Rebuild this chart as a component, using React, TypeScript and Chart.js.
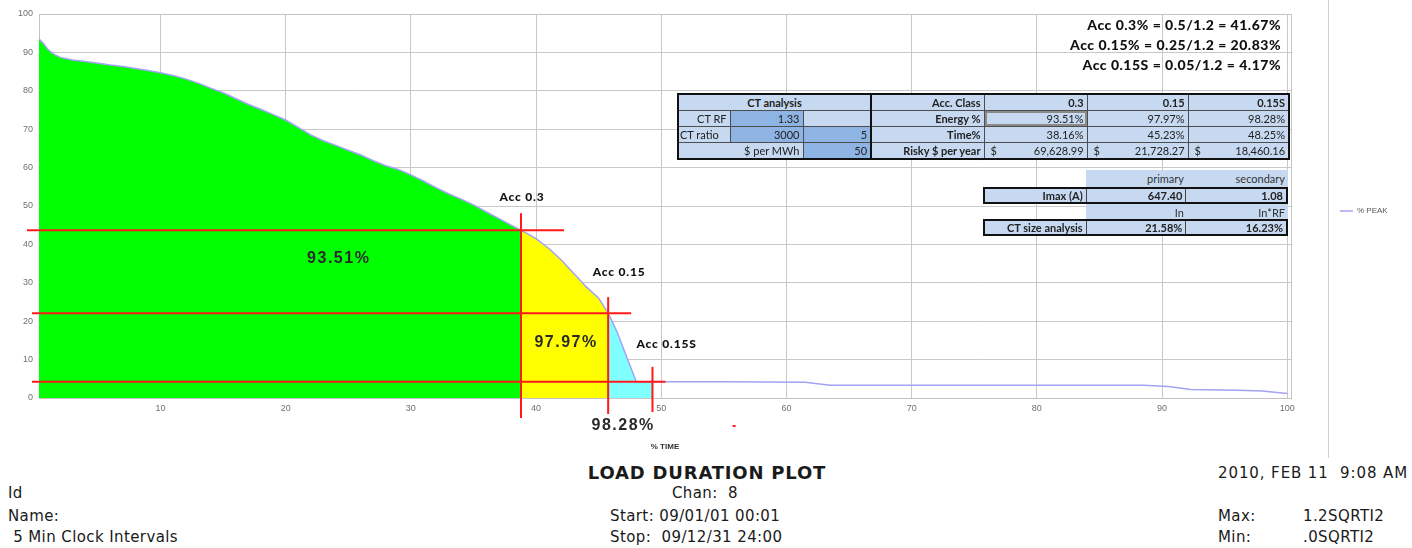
import React, { useEffect, useRef } from "react";
import { Chart, registerables } from "chart.js";

Chart.register(...registerables);

// ---------------- data ----------------
const timePct = [0.3, 0.6, 1, 1.5, 2, 3, 4, 5, 6, 7, 8, 9, 10, 11, 12, 13, 14, 15, 16, 17, 18, 19, 20, 21, 22, 23, 24, 25, 26, 27, 28, 29, 30, 31, 32, 33, 34, 35, 36, 37, 38, 38.8, 40, 41, 42, 43, 44, 45, 45.76, 46.5, 47.2, 48, 49.3, 55, 61.5, 63.5, 70, 80, 88.5, 90.5, 92.3, 96, 98, 100];
const peakPct = [93.5, 92.5, 90.8, 89.5, 88.7, 88.0, 87.6, 87.2, 86.7, 86.3, 85.8, 85.3, 84.7, 84.0, 83.1, 82.0, 80.7, 79.5, 78.0, 76.5, 75.2, 73.8, 72.4, 70.5, 68.5, 67.0, 65.8, 64.5, 63.3, 61.8, 60.5, 59.5, 58.1, 56.5, 54.8, 53.2, 51.8, 50.3, 48.5, 46.8, 45.0, 43.7, 41.5, 39.0, 36.0, 32.5, 29.0, 26.0, 22.1, 17.0, 11.0, 4.3, 4.2, 4.2, 4.1, 3.3, 3.3, 3.3, 3.3, 3.0, 2.2, 2.0, 1.8, 1.2];

const markerTime = [38.8, 45.76, 49.3];
const markerPeak = [43.7, 22.1, 4.2];
const accLabels = ["Acc 0.3", "Acc 0.15", "Acc 0.15S"];

const xTicks = [10, 20, 30, 40, 50, 60, 70, 80, 90, 100];
const yTicks = [0, 10, 20, 30, 40, 50, 60, 70, 80, 90, 100];

const accClasses = ["0.3", "0.15", "0.15S"];
const energyPct = [93.51, 97.97, 98.28];
const timeAtLimit = [38.16, 45.23, 48.25];
const riskyPerYear = [69628.99, 21728.27, 18460.16];
const ctRF = 1.33;
const ctRatio = [3000, 5];
const pricePerMWh = 50;
const imaxA = [647.4, 1.08];
const ctSizePct = [21.58, 16.23];
const sizeHeaders = ["primary", "secondary"];
const sizeHeaders2 = ["In", "In*RF"];

const accFormulas = [
  "Acc 0.3% = 0.5/1.2 = 41.67%",
  "Acc 0.15% = 0.25/1.2 = 20.83%",
  "Acc 0.15S = 0.05/1.2 = 4.17%",
];

// ---------------- styles ----------------
const zoneColors = ["#00ff00", "#ffff00", "#80ffff"];
const LB = "#c6d9f1";
const DB = "#8db4e2";
const labelDx = [1, 11, 14];
const labelDy = [-33, -41, -38];
const hLeft = [12, 7, 7];
const hRight = [43, 23, 13];
const vUp = [17, 16, 15];
const vDown = [20, 16, 14];
// energy label positions (in axis units)
const energyLabelX = [24.24, 42.4, 46.96];
const energyLabelY = [36.2, 14.3, -7.3];

const fmt2 = (v: number) => v.toLocaleString("en-US", { minimumFractionDigits: 2, maximumFractionDigits: 2 });

const curve = timePct.map((t, i) => ({ x: t, y: peakPct[i] }));
const zoneStarts = [timePct[0], ...markerTime];
const zones = markerTime.map((end, i) => curve.filter((p) => p.x >= zoneStarts[i] && p.x <= end));

const annotPlugin = {
  id: "annot",
  beforeDatasetsDraw(chart: any) {
    const { ctx, chartArea } = chart;
    ctx.save();
    ctx.strokeStyle = "#c4c4c4";
    ctx.lineWidth = 1;
    ctx.strokeRect(chartArea.left + 0.5, chartArea.top + 0.5, chartArea.right - chartArea.left, chartArea.bottom - chartArea.top);
    ctx.restore();
  },
  afterDatasetsDraw(chart: any) {
    const { ctx, chartArea, scales } = chart;
    const x = scales.x;
    const y = scales.y;
    ctx.save();
    ctx.strokeStyle = "#ff1a1a";
    ctx.lineWidth = 2;
    markerTime.forEach((t, i) => {
      const px = x.getPixelForValue(t);
      const py = y.getPixelForValue(markerPeak[i]);
      ctx.beginPath();
      ctx.moveTo(chartArea.left - hLeft[i], py);
      ctx.lineTo(px + hRight[i], py);
      ctx.stroke();
      ctx.beginPath();
      ctx.moveTo(px, py - vUp[i]);
      ctx.lineTo(px, chartArea.bottom + vDown[i]);
      ctx.stroke();
    });
    // small red dash
    ctx.beginPath();
    ctx.moveTo(x.getPixelForValue(55.7), y.getPixelForValue(-7.3));
    ctx.lineTo(x.getPixelForValue(55.7) + 3, y.getPixelForValue(-7.3));
    ctx.stroke();

    ctx.fillStyle = "#111";
    ctx.textAlign = "center";
    ctx.textBaseline = "middle";
    (ctx as any).letterSpacing = "0.8px";
    ctx.font = "900 12px Lato";
    markerTime.forEach((t, i) => {
      const px = x.getPixelForValue(t);
      const py = y.getPixelForValue(markerPeak[i]);
      ctx.fillText(accLabels[i], px + labelDx[i], py + labelDy[i]);
    });
    (ctx as any).letterSpacing = "1.5px";
    ctx.font = "bold 16px 'Liberation Sans'";
    ctx.fillStyle = "#2a2a2a";
    energyPct.forEach((e, i) => {
      ctx.fillText(e.toFixed(2) + "%", x.getPixelForValue(energyLabelX[i]), y.getPixelForValue(energyLabelY[i]));
    });
    (ctx as any).letterSpacing = "0px";
    ctx.restore();
  },
  afterDraw(chart: any) {
    const { ctx, chartArea } = chart;
    const ds = chart.data.datasets[0];
    ctx.save();
    // outer frame line
    ctx.strokeStyle = "#cfcfcf";
    ctx.lineWidth = 1;
    ctx.beginPath();
    ctx.moveTo(chartArea.right + 37.5, 0);
    ctx.lineTo(chartArea.right + 37.5, 458);
    ctx.stroke();
    // legend
    const ly = (chartArea.top + chartArea.bottom) / 2 + 5;
    ctx.strokeStyle = ds.borderColor;
    ctx.lineWidth = 1.5;
    ctx.beginPath();
    ctx.moveTo(chartArea.right + 49, ly);
    ctx.lineTo(chartArea.right + 62, ly);
    ctx.stroke();
    ctx.fillStyle = "#555";
    ctx.font = "8px 'Liberation Sans'";
    ctx.textAlign = "left";
    ctx.textBaseline = "middle";
    ctx.fillText(ds.label, chartArea.right + 66, ly);
    ctx.restore();
  },
};

const tdBase: React.CSSProperties = {
  border: "1px solid #4d4d4d",
  padding: "0 3px",
  height: 15,
  lineHeight: "14px",
  textAlign: "right",
  background: LB,
  whiteSpace: "nowrap",
  overflow: "hidden",
};

function Td(props: { children?: React.ReactNode; bg?: string; bold?: boolean; align?: any; colSpan?: number; extra?: React.CSSProperties }) {
  return (
    <td
      colSpan={props.colSpan}
      style={{
        ...tdBase,
        background: props.bg || LB,
        fontWeight: props.bold ? 700 : 400,
        textAlign: props.align || "right",
        ...(props.extra || {}),
      }}
    >
      {props.children}
    </td>
  );
}

function Money({ v }: { v: number }) {
  return (
    <span style={{ display: "flex", justifyContent: "space-between", paddingLeft: 3 }}>
      <span>$</span>
      <span>{fmt2(v)}</span>
    </span>
  );
}

const sepRight: React.CSSProperties = { borderRight: "2px solid #111" };

export default function App() {
  const ref = useRef<HTMLCanvasElement>(null);

  useEffect(() => {
    if (!ref.current) return;
    const chart = new Chart(ref.current, {
      type: "line",
      data: {
        datasets: [
          {
            label: "% PEAK",
            data: curve,
            borderColor: "#a3a3f5",
            borderWidth: 1.5,
            pointRadius: 0,
            fill: false,
            tension: 0,
          },
          ...zones.map((d, i) => ({
            label: "zone" + i,
            data: d,
            borderColor: "rgba(0,0,0,0)",
            backgroundColor: zoneColors[i],
            borderWidth: 1,
            pointRadius: 0,
            fill: "origin",
            tension: 0,
          })),
        ],
      } as any,
      options: {
        animation: false,
        responsive: true,
        maintainAspectRatio: false,
        events: [],
        layout: { padding: { left: 0, top: 14, right: 121, bottom: 0 } },
        plugins: { legend: { display: false }, tooltip: { enabled: false } },
        scales: {
          x: {
            type: "linear",
            min: 0.3,
            max: 100.3,
            afterBuildTicks: (s: any) => {
              s.ticks = xTicks.map((v) => ({ value: v }));
            },
            afterFit: (s: any) => {
              s.height = 62;
            },
            ticks: { font: { size: 9, family: "'Liberation Sans'" }, color: "#707070", padding: 5, maxRotation: 0 },
            grid: { color: "#c8c8c8", drawTicks: false },
            border: { color: "#c4c4c4" },
            title: {
              display: true,
              text: "% TIME",
              font: { size: 8, weight: "bold", family: "'Liberation Sans'" },
              color: "#333",
              padding: { top: 0, bottom: 8 },
            },
          },
          y: {
            type: "linear",
            min: 0,
            max: 100,
            afterBuildTicks: (s: any) => {
              s.ticks = yTicks.map((v) => ({ value: v }));
            },
            afterFit: (s: any) => {
              s.width = 39;
            },
            ticks: { font: { size: 9, family: "'Liberation Sans'" }, color: "#707070", padding: 6 },
            grid: { color: "#c8c8c8", drawTicks: false },
            border: { color: "#c4c4c4" },
          },
        },
      } as any,
      plugins: [annotPlugin],
    });
    return () => chart.destroy();
  }, []);

  const baseText: React.CSSProperties = {
    position: "absolute",
    fontFamily: "'DejaVu Sans', sans-serif",
    fontSize: 15,
    color: "#1a1a1a",
    lineHeight: "20px",
    whiteSpace: "pre",
    letterSpacing: "0.4px",
  };

  return (
    <div style={{ position: "absolute", left: 0, top: 0, width: 1412, height: 548, background: "#fff", overflow: "hidden" }}>
      <div style={{ position: "absolute", left: 0, top: 0, width: 1412, height: 460 }}>
        <canvas ref={ref} />
      </div>

      {/* formulas */}
      <div
        style={{
          position: "absolute",
          right: 131,
          top: 15,
          textAlign: "right",
          fontFamily: "Lato, sans-serif",
          fontWeight: 900,
          fontSize: 14,
          lineHeight: "20px",
          letterSpacing: "0.5px",
          color: "#111",
        }}
      >
        {accFormulas.map((f) => (
          <div key={f}>{f}</div>
        ))}
      </div>

      {/* CT analysis table */}
      <table
        style={{
          position: "absolute",
          left: 677,
          top: 93,
          width: 611,
          borderCollapse: "collapse",
          tableLayout: "fixed",
          border: "2px solid #111",
          fontFamily: "Lato, sans-serif",
          fontSize: 11,
          color: "#222",
        }}
      >
        <colgroup>
          <col style={{ width: 52 }} />
          <col style={{ width: 73 }} />
          <col style={{ width: 68 }} />
          <col style={{ width: 113 }} />
          <col style={{ width: 103 }} />
          <col style={{ width: 101 }} />
          <col style={{ width: 101 }} />
        </colgroup>
        <tbody>
          <tr>
            <Td colSpan={3} bold align="center" extra={sepRight}>CT analysis</Td>
            <Td bold>Acc. Class</Td>
            {accClasses.map((c) => (
              <Td key={c} bold>{c}</Td>
            ))}
          </tr>
          <tr>
            <Td>CT RF</Td>
            <Td bg={DB}>{ctRF.toFixed(2)}</Td>
            <Td extra={sepRight}></Td>
            <Td bold>Energy %</Td>
            {energyPct.map((e, i) => (
              <Td key={i} extra={i === 0 ? { boxShadow: "inset 0 0 0 2px #8a8a8a" } : undefined}>
                {e.toFixed(2)}%
              </Td>
            ))}
          </tr>
          <tr>
            <Td align="left" extra={{ paddingLeft: 1 }}>CT ratio</Td>
            <Td bg={DB}>{ctRatio[0]}</Td>
            <Td bg={DB} extra={sepRight}>{ctRatio[1]}</Td>
            <Td bold>Time%</Td>
            {timeAtLimit.map((t, i) => (
              <Td key={i}>{t.toFixed(2)}%</Td>
            ))}
          </tr>
          <tr>
            <Td colSpan={2}>$ per MWh</Td>
            <Td bg={DB} extra={sepRight}>{pricePerMWh}</Td>
            <Td bold>Risky $ per year</Td>
            {riskyPerYear.map((r, i) => (
              <Td key={i}>
                <Money v={r} />
              </Td>
            ))}
          </tr>
        </tbody>
      </table>

      {/* CT size table */}
      <div style={{ position: "absolute", left: 0, top: 0, fontFamily: "Lato, sans-serif", fontSize: 11, color: "#222" }}>
        {[0, 1].map((r) => (
          <div key={"h" + r} style={{ position: "absolute", left: 1086, top: r === 0 ? 170 : 204, width: 202, height: 17, background: LB, display: "flex" }}>
            {(r === 0 ? sizeHeaders : sizeHeaders2).map((h) => (
              <div key={h} style={{ width: 101, textAlign: "right", paddingRight: 3, boxSizing: "border-box", lineHeight: "17px", color: "#333" }}>
                {h}
              </div>
            ))}
          </div>
        ))}
        {[0, 1].map((r) => (
          <div
            key={"r" + r}
            style={{
              position: "absolute",
              left: 983,
              top: r === 0 ? 187 : 219,
              width: 305,
              height: 17,
              boxSizing: "border-box",
              border: "2px solid #111",
              background: LB,
              display: "flex",
              fontWeight: 700,
            }}
          >
            {[r === 0 ? "Imax (A)" : "CT size analysis", ...(r === 0 ? imaxA.map((v) => v.toFixed(2)) : ctSizePct.map((v) => v.toFixed(2) + "%"))].map((c, k) => (
              <div
                key={k}
                style={{
                  width: k === 0 ? 102 : 100,
                  textAlign: "right",
                  paddingRight: 3,
                  boxSizing: "border-box",
                  lineHeight: "13px",
                  borderRight: k < 2 ? "1px solid #444" : "none",
                }}
              >
                {c}
              </div>
            ))}
          </div>
        ))}
      </div>

      {/* footer */}
      <div style={{ ...baseText, left: 500, width: 414, top: 462, textAlign: "center", fontWeight: 700, fontSize: 18, lineHeight: "22px", letterSpacing: "0.8px" }}>
        LOAD DURATION PLOT
      </div>
      <div style={{ ...baseText, left: 500, width: 410, top: 483, textAlign: "center" }}>Chan:  8</div>
      <div style={{ ...baseText, left: 610, top: 506 }}>Start: 09/01/01 00:01</div>
      <div style={{ ...baseText, left: 610, top: 527 }}>Stop:  09/12/31 24:00</div>
      <div style={{ ...baseText, left: 8, top: 483 }}>Id</div>
      <div style={{ ...baseText, left: 8, top: 506 }}>Name:</div>
      <div style={{ ...baseText, left: 8, top: 527 }}> 5 Min Clock Intervals</div>
      <div style={{ ...baseText, left: 1218, top: 463, letterSpacing: "0.9px" }}>2010, FEB 11  9:08 AM</div>
      <div style={{ ...baseText, left: 1218, top: 506 }}>Max:</div>
      <div style={{ ...baseText, left: 1303, top: 506 }}>1.2SQRTI2</div>
      <div style={{ ...baseText, left: 1218, top: 527 }}>Min:</div>
      <div style={{ ...baseText, left: 1303, top: 527 }}>.0SQRTI2</div>
    </div>
  );
}
